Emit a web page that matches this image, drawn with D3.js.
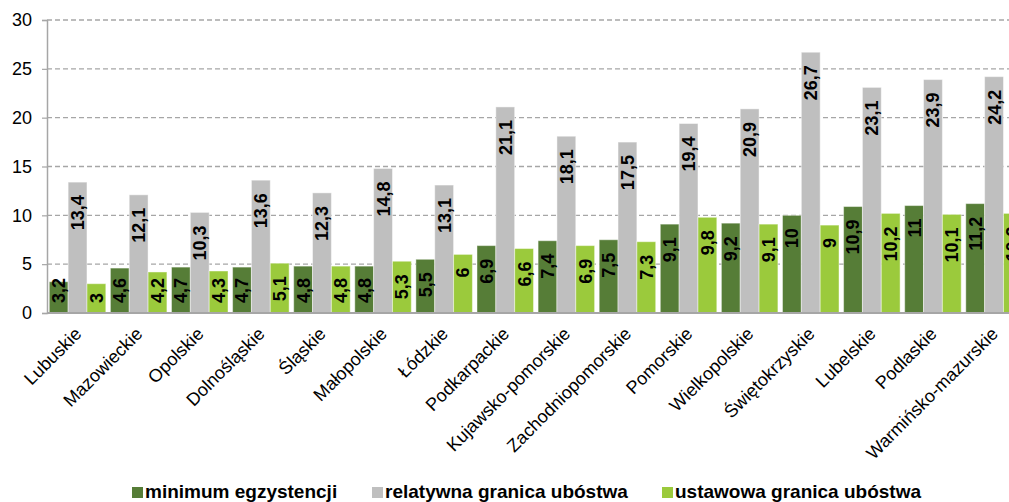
<!DOCTYPE html>
<meta charset="utf-8">
<style>
    body { margin: 0; background: #fff; }
    svg { display: block; font-family: "Liberation Sans", Arial, sans-serif; }
    .grid line { stroke: #a6a6a6; stroke-width: 1.3; stroke-dasharray: 5,3; }
    .ylab { font-size: 18px; fill: #000; }
    .xlab { font-size: 18px; fill: #000; }
    .val { font-size: 18px; font-weight: bold; fill: #000; }
    .leg { font-size: 19px; font-weight: bold; fill: #000; }
</style>
<body>
<script src="https://cdn.jsdelivr.net/npm/d3@7"></script>
<script>
// wojewodztwa
var regions = ["Lubuskie", "Mazowieckie", "Opolskie", "Dolnośląskie", "Śląskie", "Małopolskie",
    "Łódzkie", "Podkarpackie", "Kujawsko-pomorskie", "Zachodniopomorskie", "Pomorskie",
    "Wielkopolskie", "Świętokrzyskie", "Lubelskie", "Podlaskie", "Warmińsko-mazurskie"];

var minimum = [3.2, 4.6, 4.7, 4.7, 4.8, 4.8, 5.5, 6.9, 7.4, 7.5, 9.1, 9.2, 10, 10.9, 11, 11.2];
var relatywna = [13.4, 12.1, 10.3, 13.6, 12.3, 14.8, 13.1, 21.1, 18.1, 17.5, 19.4, 20.9, 26.7, 23.1, 23.9, 24.2];
var ustawowa = [3, 4.2, 4.3, 5.1, 4.8, 5.3, 6, 6.6, 6.9, 7.3, 9.8, 9.1, 9, 10.2, 10.1, 10.2];

var seriesNames = ["minimum egzystencji", "relatywna granica ubóstwa", "ustawowa granica ubóstwa"];
var yTicks = [0, 5, 10, 15, 20, 25, 30];

var colors = ["#567d37", "#bfbfbf", "#9bca3c"];
var W = 1009, H = 502;

var svg = d3.select("body").append("svg")
    .attr("width", W)
    .attr("height", H);

// plot area runs past the right edge, like the original
var x0 = d3.scaleBand()
    .domain(regions)
    .range([47, 47 + 16 * 61.1])
    .paddingInner(0.075)
    .paddingOuter(0.0375);

var x1 = d3.scaleBand()
    .domain([0, 1, 2])
    .range([0, x0.bandwidth()]);

var y = d3.scaleLinear()
    .domain([0, 30])
    .range([313, 20]);

// gridlines
svg.append("g").attr("class", "grid")
    .selectAll("line")
    .data(yTicks.filter(function(d) { return d > 0; }))
    .enter().append("line")
    .attr("x1", 47).attr("x2", W)
    .attr("y1", function(d) { return y(d); })
    .attr("y2", function(d) { return y(d); });

// y axis
var yAxis = svg.append("g")
    .attr("transform", "translate(47,0)")
    .call(d3.axisLeft(y).tickValues(yTicks).tickSize(5).tickPadding(10));
yAxis.select(".domain").attr("stroke", "#a6a6a6").attr("stroke-width", 1.5);
yAxis.selectAll(".tick line").attr("stroke", "#a6a6a6").attr("stroke-width", 1.2);
yAxis.selectAll(".tick text").attr("class", "ylab").attr("font-family", null).attr("font-size", null)
    .attr("fill", "#000");

var data = regions.map(function(r, i) {
    return { region: r, vals: [minimum[i], relatywna[i], ustawowa[i]] };
});

var groups = svg.selectAll(".grp")
    .data(data)
    .enter().append("g")
    .attr("class", "grp")
    .attr("transform", function(d) { return "translate(" + x0(d.region) + ",0)"; });

groups.selectAll("rect")
    .data(function(d) { return d.vals; })
    .enter().append("rect")
    .attr("x", function(d, i) { return x1(i); })
    .attr("width", x1.bandwidth())
    .attr("y", function(d) { return y(d); })
    .attr("height", function(d) { return y(0) - y(d); })
    .attr("fill", function(d, i) { return colors[i]; })
    .attr("stroke", "rgba(255,255,255,0.45)")
    .attr("stroke-width", 1);

// x axis line
svg.append("line")
    .attr("x1", 47).attr("x2", W)
    .attr("y1", y(0)).attr("y2", y(0))
    .attr("stroke", "#a6a6a6")
    .attr("stroke-width", 2);

// value labels, rotated, at inside end but kept above the base
groups.selectAll("text.val")
    .data(function(d) { return d.vals; })
    .enter().append("text")
    .attr("class", "val")
    .attr("text-anchor", "end")
    .attr("dy", "0.36em")
    .text(function(d) { return String(d).replace(".", ","); })
    .each(function(d, i) {
        var len = this.getComputedTextLength();
        var top = Math.min(y(d) + 13, 303 - len);
        var cx = x1(i) + x1.bandwidth() / 2;
        d3.select(this).attr("transform", "translate(" + cx + "," + top + ") rotate(-90)");
    });

// category labels
svg.append("g").selectAll("text")
    .data(regions)
    .enter().append("text")
    .attr("class", "xlab")
    .attr("text-anchor", "end")
    .attr("transform", function(d) {
        return "translate(" + (x0(d) + x0.bandwidth() / 2 + 5) + ",335) rotate(-45)";
    })
    .text(function(d) { return d; });

// legend
var legX = [132, 372, 662];
var leg = svg.append("g").selectAll("g")
    .data(seriesNames)
    .enter().append("g")
    .attr("transform", function(d, i) { return "translate(" + legX[i] + ",487)"; });
leg.append("rect")
    .attr("width", 11).attr("height", 11)
    .attr("fill", function(d, i) { return colors[i]; });
leg.append("text")
    .attr("class", "leg")
    .attr("x", 13)
    .attr("y", 11)
    .text(function(d) { return d; });
</script>
</body>
